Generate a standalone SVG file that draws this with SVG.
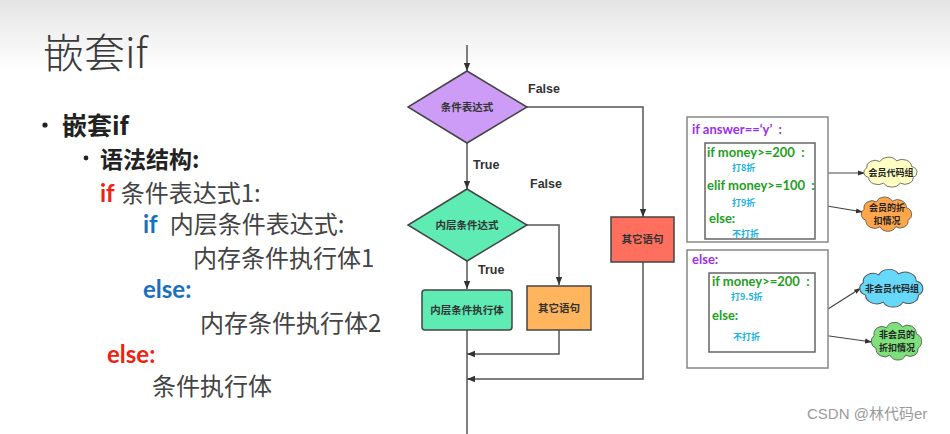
<svg xmlns="http://www.w3.org/2000/svg" xmlns:xlink="http://www.w3.org/1999/xlink" width="950" height="434" viewBox="0 0 950 434">
<defs>
<linearGradient id="bg" x1="0" y1="0" x2="0" y2="1">
<stop offset="0" stop-color="#e4e4e4"/>
<stop offset="1" stop-color="#ffffff"/>
</linearGradient>
<marker id="ah" viewBox="0 0 10 10" refX="10" refY="5" markerWidth="8" markerHeight="8" orient="auto" markerUnits="userSpaceOnUse">
<path d="M0,1 L10,5 L0,9 z" fill="#333"/>
</marker>
<marker id="ahs" viewBox="0 0 10 10" refX="10" refY="5" markerWidth="7" markerHeight="7" orient="auto" markerUnits="userSpaceOnUse">
<path d="M0,1.5 L10,5 L0,8.5 z" fill="#333"/>
</marker>
<path id="cloud" d="M-24,8 A8,8 0 0,1 -26,-6 A9,9 0 0,1 -12,-15 A10,10 0 0,1 6,-16 A10,10 0 0,1 22,-8 A9,9 0 0,1 24,8 A9,9 0 0,1 10,16 A10,10 0 0,1 -8,16 A10,10 0 0,1 -24,8 Z"/>
<style>
.t{font-family:"Noto Sans CJK SC","Liberation Sans",sans-serif;}
.en{font-family:Lato,"Noto Sans CJK SC",sans-serif;font-weight:bold;}
.body{font-size:24px;fill:#444;}
.fl{fill:none;stroke:#555;stroke-width:1.5;}
.node{stroke:#444;stroke-width:1.5;}
.lbl{font-family:"Liberation Sans","Noto Sans CJK SC",sans-serif;font-size:12.5px;font-weight:bold;fill:#333;}
.nt{font-family:"Noto Sans CJK SC",sans-serif;font-size:10.5px;font-weight:bold;fill:#333;text-anchor:middle;}
.box{fill:#fff;stroke:#888;stroke-width:1.5;}
.ibox{fill:#fff;stroke:#666;stroke-width:1.5;}
.code{font-family:Lato,"Noto Sans CJK SC",sans-serif;font-size:13px;font-weight:bold;}
.pu{fill:#9a2fe6;}
.gr{fill:#22a022;}
.cy{font-family:"Noto Sans CJK SC",sans-serif;font-size:9px;font-weight:bold;fill:#20b2e0;}
.cl{stroke:#555;stroke-width:1;vector-effect:non-scaling-stroke;}
.ct{font-family:"Noto Sans CJK SC",sans-serif;font-size:9px;font-weight:bold;fill:#222;text-anchor:middle;}
.cn{fill:none;stroke:#444;stroke-width:1.2;}
</style>
</defs>
<rect x="0" y="0" width="950" height="434" fill="#fff"/>
<rect x="0" y="0" width="950" height="70" fill="url(#bg)"/>

<g id="slide-text">
<text x="43" y="68" class="t" font-size="41" font-weight="300" fill="#3a3a3a">嵌套if</text>
<circle cx="45" cy="125" r="2.6" fill="#222"/>
<text x="62" y="135" class="t" font-size="25" font-weight="bold" fill="#222">嵌套if</text>
<circle cx="86" cy="158" r="2.4" fill="#222"/>
<text x="100" y="168" class="t" font-size="23" font-weight="bold" fill="#222">语法结构:</text>
<text x="100" y="202" class="body"><tspan class="en" fill="#ee2211">if</tspan><tspan class="t" dx="6">条件表达式1:</tspan></text>
<text x="143" y="233" class="body"><tspan class="en" fill="#1a6fc0">if</tspan><tspan class="t" dx="12">内层条件表达式:</tspan></text>
<text x="193" y="267" class="t body">内存条件执行体1</text>
<text x="143" y="298" class="en" font-size="24" fill="#1a6fc0">else:</text>
<text x="200" y="332" class="t body">内存条件执行体2</text>
<text x="107" y="363" class="en" font-size="24" fill="#ee2211">else:</text>
<text x="152" y="395" class="t body">条件执行体</text>
</g>

<g id="connectors">
<line class="fl" x1="467" y1="45" x2="467" y2="71" marker-end="url(#ah)"/>
<polyline class="fl" points="527,107 643,107 643,217" marker-end="url(#ah)"/>
<line class="fl" x1="467" y1="143" x2="467" y2="189" marker-end="url(#ah)"/>
<polyline class="fl" points="527,225 559,225 559,285" marker-end="url(#ah)"/>
<line class="fl" x1="467" y1="261" x2="467" y2="289" marker-end="url(#ah)"/>
<line class="fl" x1="467" y1="330" x2="467" y2="434"/>
<polyline class="fl" points="559,330 559,354 467,354" marker-end="url(#ah)"/>
<polyline class="fl" points="643,262 643,379 467,379" marker-end="url(#ah)"/>
<line class="cn" x1="828" y1="173" x2="865" y2="173" marker-end="url(#ahs)"/>
<line class="cn" x1="815" y1="204" x2="863" y2="212" marker-end="url(#ahs)"/>
<line class="cn" x1="828" y1="309" x2="861" y2="288" marker-end="url(#ahs)"/>
<line class="cn" x1="815" y1="334" x2="872" y2="342" marker-end="url(#ahs)"/>
</g>

<g id="flow-labels">
<text x="528" y="93" class="lbl">False</text>
<text x="473" y="169" class="lbl">True</text>
<text x="530" y="188" class="lbl">False</text>
<text x="478" y="274" class="lbl">True</text>
</g>

<g id="cond1">
<polygon class="node" points="467,71 527,107 467,143 408,107" fill="#cc9cf7"/>
<text x="467" y="111" class="nt">条件表达式</text>
</g>
<g id="cond2">
<polygon class="node" points="467,189 527,225 467,261 408,225" fill="#5eebb4"/>
<text x="467" y="229" class="nt">内层条件达式</text>
</g>
<g id="inner-body">
<rect class="node" x="422" y="290" width="90" height="40" rx="3" fill="#5eebb4"/>
<text x="467" y="314" class="nt">内层条件执行体</text>
</g>
<g id="other-inner">
<rect class="node" x="527" y="286" width="64" height="44" fill="#ffb45e"/>
<text x="559" y="312" class="nt">其它语句</text>
</g>
<g id="other-outer">
<rect class="node" x="611" y="217" width="63" height="45" fill="#ff6f5e"/>
<text x="642.5" y="243" class="nt">其它语句</text>
</g>

<g id="code-member">
<rect class="box" x="687" y="117" width="141" height="125"/>
<text x="692" y="134" class="code pu">if answer==‘y’&#160;&#160;:</text>
<rect class="ibox" x="705" y="143" width="110" height="96"/>
<text x="707" y="157" class="code gr">if money&gt;=200&#160;&#160;:</text>
<text x="732" y="171" class="cy">打8折</text>
<text x="707" y="190" class="code gr">elif money&gt;=100&#160;&#160;:</text>
<text x="732" y="206" class="cy">打9折</text>
<text x="709" y="223" class="code gr">else:</text>
<text x="732" y="237" class="cy">不打折</text>
</g>
<g id="code-nonmember">
<rect class="box" x="687" y="250" width="141" height="118"/>
<text x="692" y="264" class="code pu">else:</text>
<rect class="ibox" x="709" y="273" width="106" height="79"/>
<text x="712" y="286" class="code gr">if money&gt;=200&#160;&#160;:</text>
<text x="731" y="300" class="cy">打9.5折</text>
<text x="712" y="320" class="code gr">else:</text>
<text x="733" y="340" class="cy">不打折</text>
</g>

<g id="cloud-member-code">
<use href="#cloud" xlink:href="#cloud" class="cl" fill="#ffffc4" transform="translate(891,172) scale(0.93,0.7)"/>
<text x="891" y="175.5" class="ct">会员代码组</text>
</g>
<g id="cloud-member-discount">
<use href="#cloud" xlink:href="#cloud" class="cl" fill="#ffa64a" transform="translate(887,214) scale(0.88,0.8)"/>
<text x="887" y="211" class="ct">会员的折</text>
<text x="887" y="224" class="ct">扣情况</text>
</g>
<g id="cloud-nonmember-code">
<use href="#cloud" xlink:href="#cloud" class="cl" fill="#66d8fa" transform="translate(892,288) scale(1.1,0.88)"/>
<text x="892" y="291.5" class="ct">非会员代码组</text>
</g>
<g id="cloud-nonmember-discount">
<use href="#cloud" xlink:href="#cloud" class="cl" fill="#7ee07a" transform="translate(897,341) scale(0.88,0.88)"/>
<text x="897" y="338" class="ct">非会员的</text>
<text x="897" y="351" class="ct">折扣情况</text>
</g>

<text x="807" y="419" font-family="'Liberation Sans','Noto Sans CJK SC',sans-serif" font-size="15" fill="#9a9a9a">CSDN @林代码er</text>
</svg>
